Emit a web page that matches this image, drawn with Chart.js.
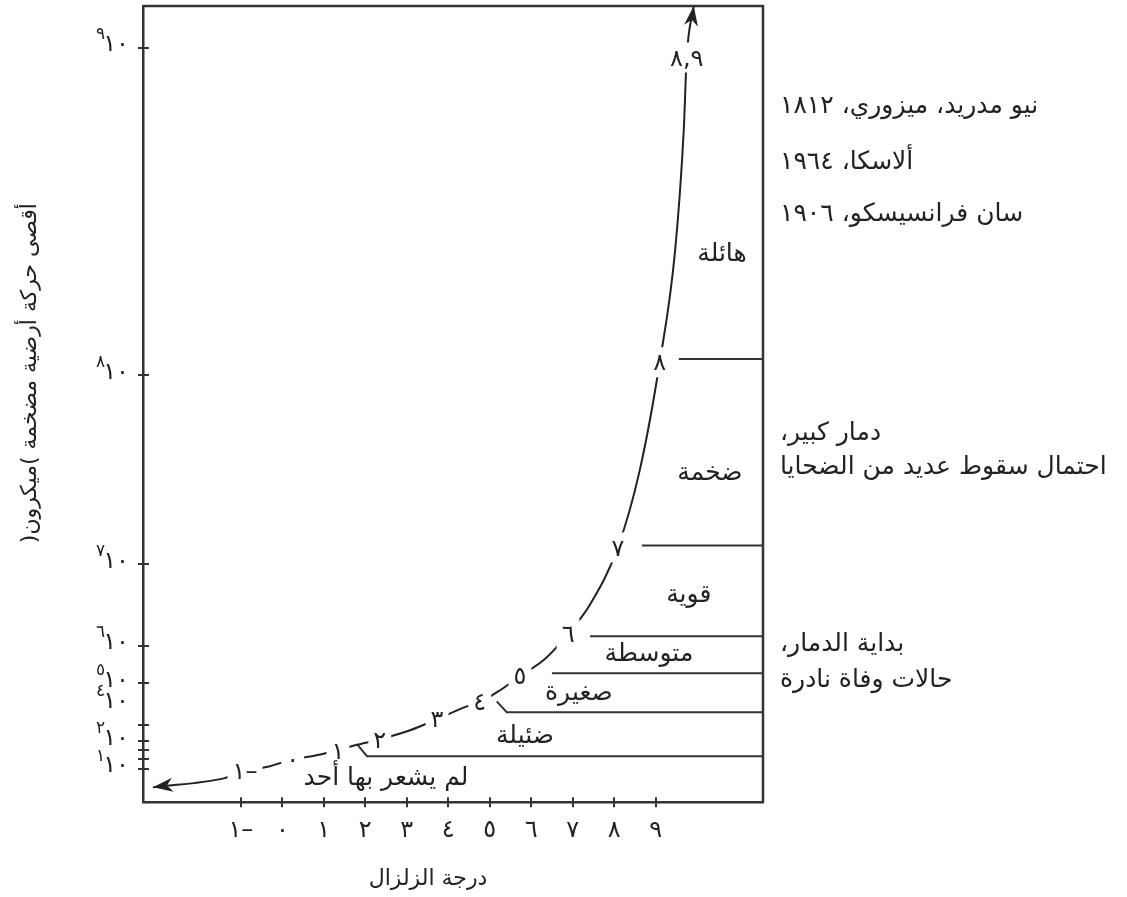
<!DOCTYPE html>
<html lang="ar">
<head>
<meta charset="utf-8">
<script src="https://cdn.jsdelivr.net/npm/chart.js@4.4.1/dist/chart.umd.min.js"></script>
<style>
  html, body { margin: 0; padding: 0; background: #fff; }
  #quakeChart { display: block; }
</style>
</head>
<body>
<canvas id="quakeChart" width="1127" height="897" dir="rtl"></canvas>
<script>
// magnitude axis
var magTicks = [-1, 0, 1, 2, 3, 4, 5, 6, 7, 8, 9];
var magLabels = ['–١', '٠', '١', '٢', '٣', '٤', '٥', '٦', '٧', '٨', '٩'];

// ground motion axis, powers of ten (microns)
var powerTicks = [1, 1.3, 1.6, 2, 3, 5, 6, 7, 8, 9];
var powerLabelValues = [1, 2, 4, 5, 6, 7, 8, 9];
var powerLabels = ['١', '٢', '٤', '٥', '٦', '٧', '٨', '٩'];

// the magnitude curve
var curveMag   = [-3.12, -1.39, -0.90, -0.30, 0.25, 0.71, 1.34, 1.75, 2.35, 3.08, 3.73, 4.45, 4.76, 5.25, 5.73, 6.33, 6.89, 7.42, 8.09, 8.62, 9.10, 9.47, 9.68, 9.75, 9.92];
var curvePower = [0.45, 0.73, 0.94, 1.09, 1.30, 1.40, 1.60, 1.82, 2.12, 2.69, 3.29, 3.90, 4.10, 4.67, 5.19, 5.65, 6.15, 6.51, 7.09, 7.50, 8.04, 8.38, 8.75, 8.97, 9.13];
var curveText  = ['', '', '–١', '', '٠', '', '١', '', '٢', '', '٣', '', '٤', '', '٥', '', '٦', '', '٧', '', '٨', '', '', '٨,٩', ''];

// lines between the classes
var boundaryLevel = [1.40, 3.62, 5.27, 6.12, 7.10, 8.05];
var boundaryFrom  = [2.04, 5.41, 6.50, 7.42, 8.67, 9.56];
var hookMag   = [1.80, 5.17, null, null, null, null];
var hookPower = [1.87, 4.14, null, null, null, null];

var regionNames = ['لم يشعر بها أحد', 'ضئيلة', 'صغيرة', 'متوسطة', 'قوية', 'ضخمة', 'هائلة'];
var regionMag   = [2.50, 5.85, 7.15, 8.84, 9.80, 10.31, 10.60];
var regionPower = [0.79, 2.44, 4.62, 5.84, 6.65, 7.49, 8.375];

var notes = ['نيو مدريد، ميزوري، ١٨١٢', 'ألاسكا، ١٩٦٤', 'سان فرانسيسكو، ١٩٠٦', 'دمار كبير،', 'احتمال سقوط عديد من الضحايا', 'بداية الدمار،', 'حالات وفاة نادرة'];
var notePower = [8.83, 8.66, 8.50, 7.71, 7.53, 6.05, 5.16];

var xTitle = 'درجة الزلزال';
var yTitle = 'أقصى حركة أرضية مضخمة )ميكرون(';

var magMin = -3.36, magMax = 11.59;
var powerMin = 0, powerMax = 9.13;

// the drawing's vertical axis is not even, so map powers to a share of the height
var warpPowers = [0, 1, 1.3, 1.6, 2, 3, 5, 6, 7, 8, 9, 9.13];
var warpShare  = [0, 0.0414, 0.0540, 0.0652, 0.0765, 0.0966, 0.1493, 0.1961, 0.2986, 0.5361, 0.9477, 1];

function interp(v, xs, ys) {
  if (v <= xs[0]) return ys[0];
  for (var i = 1; i < xs.length; i++) {
    if (v <= xs[i]) {
      return ys[i-1] + (v - xs[i-1]) / (xs[i] - xs[i-1]) * (ys[i] - ys[i-1]);
    }
  }
  return ys[ys.length-1];
}

class WarpScale extends Chart.LinearScale {
  getPixelForValue(value) {
    if (value === null || value === undefined || isNaN(value)) return NaN;
    return this.getPixelForDecimal(interp(value, warpPowers, warpShare));
  }
  getValueForPixel(pixel) {
    return interp(this.getDecimalForPixel(pixel), warpShare, warpPowers);
  }
}
WarpScale.id = 'warp';
Chart.register(WarpScale);

var ink = '#222';
var lineInk = '#333';
var arabicFont = "'DejaVu Sans', sans-serif";
Chart.defaults.font.family = arabicFont;
Chart.defaults.color = ink;

var curvePoints = [];
curveMag.forEach((m, i) => {
  curvePoints.push({x: m, y: curvePower[i]});
});

var datasets = [{
  data: curvePoints,
  borderColor: ink,
  borderWidth: 2,
  pointRadius: 0,
  cubicInterpolationMode: 'monotone',
  fill: false
}];

boundaryLevel.forEach((lvl, i) => {
  var pts = [];
  if (hookMag[i] !== null) pts.push({x: hookMag[i], y: hookPower[i]});
  pts.push({x: boundaryFrom[i], y: lvl});
  pts.push({x: magMax, y: lvl});
  datasets.push({
    data: pts,
    borderColor: lineInk,
    borderWidth: 2,
    pointRadius: 0,
    tension: 0,
    fill: false
  });
});

function arrowHead(ctx, tip, from, len, half) {
  var ang = Math.atan2(tip.y - from.y, tip.x - from.x);
  ctx.save();
  ctx.translate(tip.x, tip.y);
  ctx.rotate(ang);
  ctx.beginPath();
  ctx.moveTo(0, 0);
  ctx.lineTo(-len, -half);
  ctx.lineTo(-len * 0.7, 0);
  ctx.lineTo(-len, half);
  ctx.closePath();
  ctx.fill();
  ctx.restore();
}

const decor = {
  id: 'decor',
  afterDatasetsDraw: (chart) => {
    const {ctx, chartArea: a} = chart;
    const xs = chart.scales.x, ys = chart.scales.y;
    ctx.save();
    ctx.direction = 'rtl';

    // top and right side of the frame
    ctx.strokeStyle = lineInk;
    ctx.lineWidth = 2.5;
    ctx.beginPath();
    ctx.moveTo(a.left, a.top);
    ctx.lineTo(a.right, a.top);
    ctx.lineTo(a.right, a.bottom);
    ctx.stroke();

    // tick marks crossing the axes
    ctx.lineWidth = 2;
    magTicks.forEach((m) => {
      var px = Math.round(xs.getPixelForValue(m));
      ctx.beginPath();
      ctx.moveTo(px, a.bottom - 5);
      ctx.lineTo(px, a.bottom + 5);
      ctx.stroke();
    });
    powerTicks.forEach((p) => {
      var py = Math.round(ys.getPixelForValue(p));
      ctx.beginPath();
      ctx.moveTo(a.left - 5, py);
      ctx.lineTo(a.left + 6, py);
      ctx.stroke();
    });

    // numbers along the curve, on white so the line breaks there
    const meta = chart.getDatasetMeta(0);
    ctx.font = '24px ' + arabicFont;
    ctx.textAlign = 'center';
    ctx.textBaseline = 'middle';
    curveText.forEach((t, i) => {
      if (!t) return;
      var pt = meta.data[i];
      var w = ctx.measureText(t).width;
      ctx.fillStyle = '#fff';
      ctx.fillRect(pt.x - w / 2 - 5, pt.y - 15, w + 10, 30);
      ctx.fillStyle = ink;
      ctx.fillText(t, pt.x, pt.y + 2);
    });

    // arrow heads at both ends of the curve
    ctx.fillStyle = ink;
    var n = meta.data.length;
    arrowHead(ctx, meta.data[0], meta.data[1], 20, 7);
    arrowHead(ctx, meta.data[n-1], meta.data[n-2], 20, 7);

    // class names
    ctx.font = '25px ' + arabicFont;
    regionNames.forEach((name, i) => {
      ctx.fillText(name, xs.getPixelForValue(regionMag[i]), ys.getPixelForValue(regionPower[i]) + 2);
    });

    // y tick labels: ten with a raised power
    powerLabelValues.forEach((p, i) => {
      var py = ys.getPixelForValue(p) - 3;
      var right = a.left - 14;
      ctx.font = '24px ' + arabicFont;
      ctx.textAlign = 'right';
      ctx.letterSpacing = '-5px';
      ctx.fillText('١٠', right, py);
      var w = ctx.measureText('١٠').width;
      ctx.letterSpacing = '0px';
      ctx.font = '17px ' + arabicFont;
      ctx.fillText(powerLabels[i], right - w + 2, py - 10);
    });

    // notes on the right
    ctx.font = '25px ' + arabicFont;
    ctx.textAlign = 'left';
    notes.forEach((t, i) => {
      ctx.fillText(t, a.right + 17, ys.getPixelForValue(notePower[i]) + 3);
    });

    // axis titles
    ctx.font = '22px ' + arabicFont;
    ctx.textAlign = 'center';
    ctx.fillText(xTitle, (a.left + a.right) / 2 - 25, a.bottom + 77);
    ctx.save();
    ctx.translate(30, (a.top + a.bottom) / 2 - 31);
    ctx.rotate(-Math.PI / 2);
    ctx.fillText(yTitle, 0, 0);
    ctx.restore();

    ctx.restore();
  }
};

new Chart(document.getElementById('quakeChart'), {
  type: 'line',
  data: { datasets: datasets },
  options: {
    responsive: false,
    animation: false,
    devicePixelRatio: 1,
    layout: { padding: { left: 143, top: 6, right: 364, bottom: 38 } },
    plugins: {
      legend: { display: false },
      tooltip: { enabled: false }
    },
    scales: {
      x: {
        type: 'linear',
        min: magMin,
        max: magMax,
        afterBuildTicks: (scale) => {
          scale.ticks = magTicks.map((v) => ({value: v}));
        },
        ticks: {
          padding: 14,
          font: { size: 24 },
          color: ink,
          maxRotation: 0,
          callback: (v, i) => magLabels[i]
        },
        grid: { display: false, drawTicks: false },
        border: { display: true, color: lineInk, width: 2.5 }
      },
      y: {
        type: 'warp',
        min: powerMin,
        max: powerMax,
        afterBuildTicks: (scale) => {
          scale.ticks = powerTicks.map((v) => ({value: v}));
        },
        ticks: { display: false },
        grid: { display: false, drawTicks: false },
        border: { display: true, color: lineInk, width: 2.5 }
      }
    }
  },
  plugins: [decor]
});
</script>
</body>
</html>
